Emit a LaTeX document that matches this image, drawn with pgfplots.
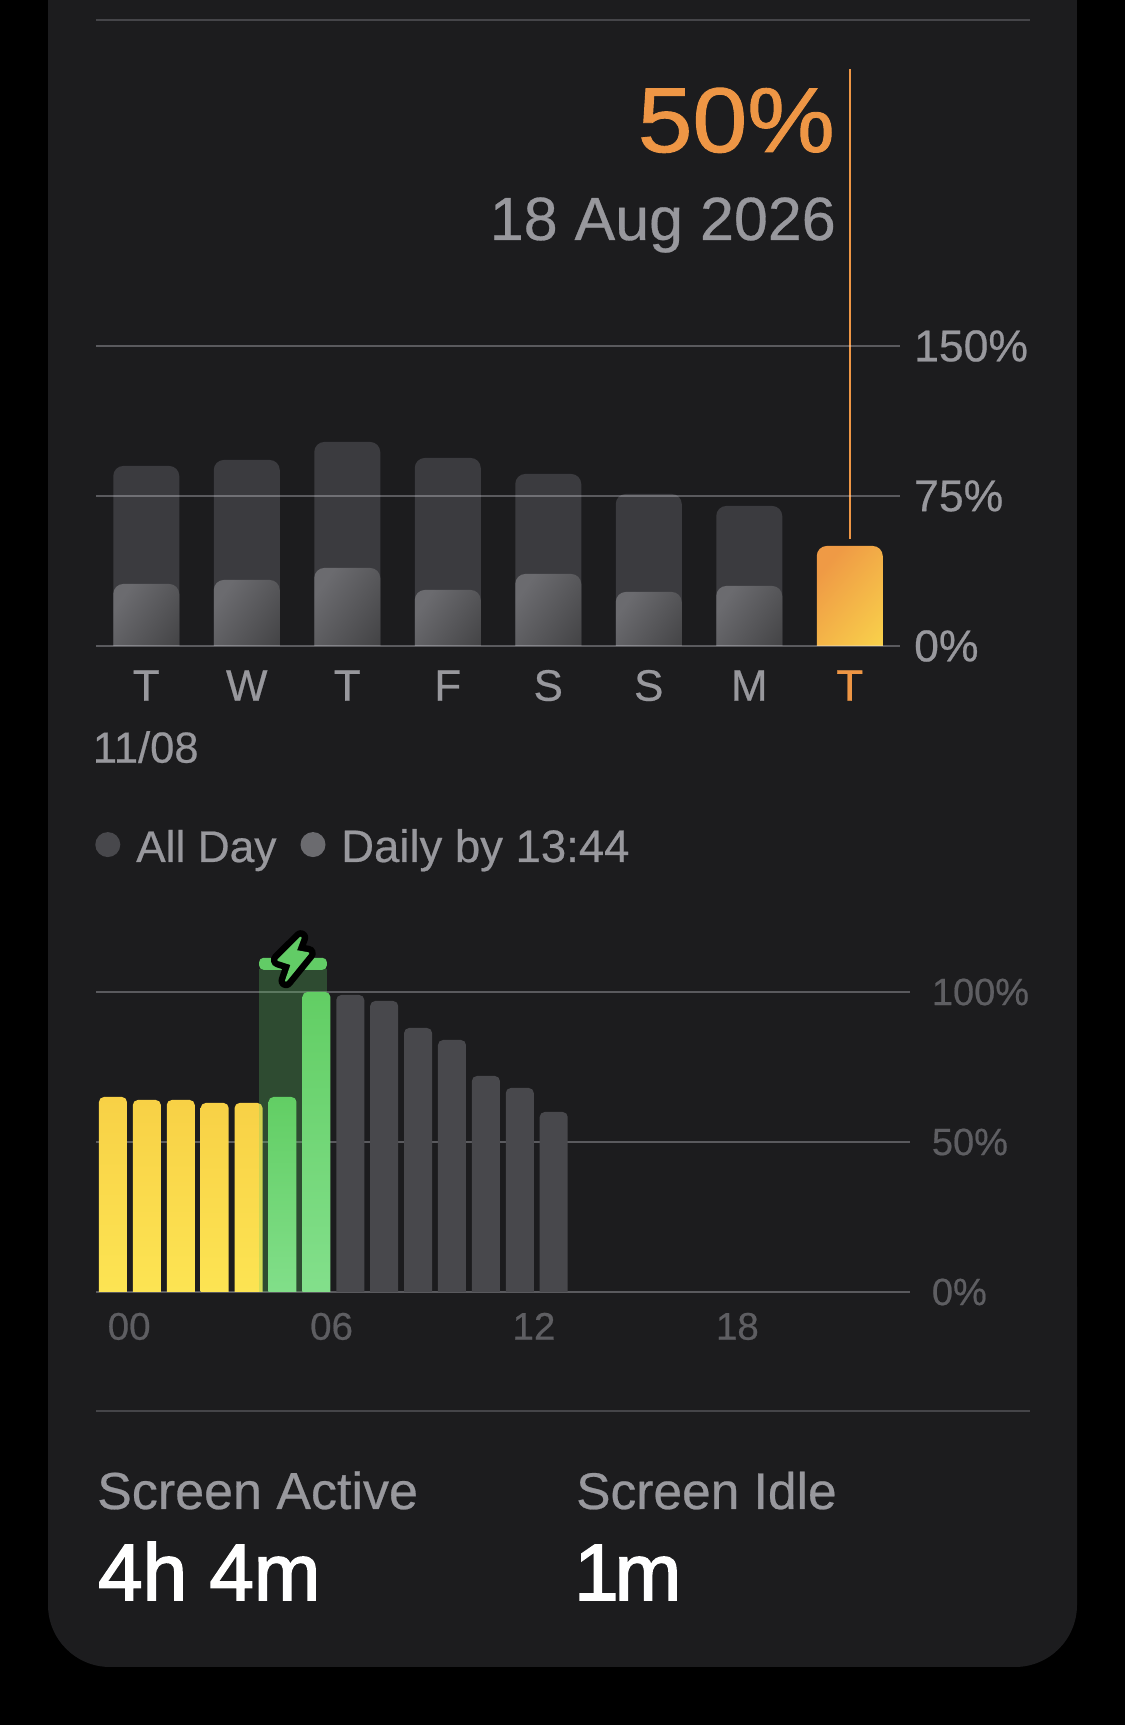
\documentclass[border=0pt]{standalone}
\usepackage{fontspec}
\usepackage{pgfplots}
\pgfplotsset{compat=1.18}
\setmainfont[FakeBold=0.5]{Liberation Sans}
\newfontfamily\medfont[FakeBold=2]{Liberation Sans}
\newfontfamily\bigfont[FakeStretch=1.07,FakeBold=1]{Liberation Sans}
\definecolor{panel}{HTML}{1C1C1E}
\definecolor{lab}{HTML}{98989D}
\definecolor{lablow}{HTML}{5E5E62}
\definecolor{orangeT}{HTML}{EE9645}
\definecolor{gridc}{HTML}{EBEBF5}
\definecolor{allday}{HTML}{3B3B3F}
\definecolor{dailyA}{HTML}{6B6B6F}
\definecolor{dailyB}{HTML}{424244}
\definecolor{ortop}{HTML}{EF9A45}
\definecolor{orbot}{HTML}{F9D24B}
\definecolor{yeltop}{HTML}{F8D146}
\definecolor{yelbot}{HTML}{FDE755}
\definecolor{grntop}{HTML}{62CE64}
\definecolor{grnbot}{HTML}{86E18F}
\definecolor{greybar}{HTML}{48484C}
\definecolor{capg}{HTML}{62CC66}
\newcommand{\fs}[1]{\fontsize{#1}{#1}\selectfont}
\makeatletter
\newcommand{\lowerorigin}{\def\pgfplotspointaxisorigin{\global\pgf@x=0pt \global\pgf@y=-30pt }}
\makeatother
\pgfplotsset{
  common/.style={
    scale only axis, clip=true,
    axis line style={draw=none},
    major tick length=0pt,
    tick style={draw=none},
    ymajorgrids,
    grid style={draw=gridc,draw opacity=0.3,line width=1.6pt},
    ymin=0,
  },
  wk/.style={ybar,bar shift=0pt,bar width=66pt,draw=none,rounded corners=10pt,
    execute at begin plot visualization={\lowerorigin}},
  hr/.style={ybar,bar shift=0pt,bar width=28pt,draw=none,rounded corners=5pt,
    execute at begin plot visualization={\lowerorigin}},
  daily/.style={wk,top color=dailyA,bottom color=dailyB,shading angle=55},
  yel/.style={hr,top color=yeltop,bottom color=yelbot},
  grn/.style={hr,top color=grntop,bottom color=grnbot},
}
\begin{document}
\begin{tikzpicture}[x=1pt,y=1pt]
\fill[black] (0,0) rectangle (1125,1725);
\fill[panel] (48,300) rectangle (1077,1725);
\fill[panel,rounded corners=62pt] (48,58) rectangle (1077,500);
% separators
\draw[gridc,draw opacity=0.2,line width=1.4pt] (96,1705) -- (1030,1705);
\draw[gridc,draw opacity=0.2,line width=1.4pt] (96,314) -- (1030,314);

% ---- weekly chart
\begin{axis}[common,
  at={(96pt,1079pt)},anchor=south west,
  width=804pt,height=580pt,
  axis on top,
  xmin=-0.5,xmax=7.5,ymax=290,
  xtick={0,1,2,3,4,5,6,7},
  xticklabels={T,W,T,F,S,S,M,\textcolor{orangeT}{T}},
  ytick={0,75,150},
  yticklabels={0\%,75\%,150\%},
  yticklabel pos=right,
  x tick label style={font=\fs{44},text=lab,inner sep=0pt,anchor=north,text height=32pt,text depth=0pt,yshift=-22.5pt},
  y tick label style={font=\fs{44.5},text=lab,inner sep=0pt,anchor=west,xshift=14pt},
]
\addplot[wk,fill=allday] coordinates {(0,90)(1,93)(2,102)(3,94)(4,86)(5,76)(6,70)};
\addplot[daily] coordinates {(0,31)};
\addplot[daily] coordinates {(1,33)};
\addplot[daily] coordinates {(2,39)};
\addplot[daily] coordinates {(3,28)};
\addplot[daily] coordinates {(4,36)};
\addplot[daily] coordinates {(5,27)};
\addplot[daily] coordinates {(6,30)};
\addplot[wk,top color=ortop,bottom color=orbot,shading angle=50] coordinates {(7,50)};
\addplot[orangeT,line width=1.6pt] coordinates {(7,53.5)(7,288.5)};
\end{axis}

% ---- hourly chart
\begin{axis}[common,
  at={(96pt,433pt)},anchor=south west,
  width=813.7pt,height=345pt,
  xmin=-0.5,xmax=23.5,ymax=115,
  xtick={-0.16,5.81,11.78,17.78},
  xticklabels={00,06,12,18},
  ytick={0,50,100},
  yticklabels={0\%,50\%,100\%},
  yticklabel pos=right,
  x tick label style={font=\fs{38.5},text=lablow,inner sep=0pt,anchor=north west,text height=27pt,text depth=0pt,yshift=-20.5pt},
  y tick label style={font=\fs{38},text=lablow,inner sep=0pt,anchor=west,xshift=22pt},
]
\addplot[yel] coordinates {(0,65)};
\addplot[yel] coordinates {(1,64)};
\addplot[yel] coordinates {(2,64)};
\addplot[yel] coordinates {(3,63)};
\addplot[yel] coordinates {(4,63)};
\addplot[ybar,bar shift=0pt,bar width=67.7pt,draw=none,fill=capg,fill opacity=0.27] coordinates {(5.31,107.7)};
\addplot[draw=none,fill=capg,rounded corners=4.5pt] coordinates {(4.31,107.4)(4.31,111.4)(6.31,111.4)(6.31,107.4)} --cycle;
\addplot[grn] coordinates {(5,65)};
\addplot[grn] coordinates {(6,100)};
\addplot[hr,fill=greybar] coordinates {(7,99)(8,97)(9,88)(10,84)(11,72)(12,68)(13,60)};
\end{axis}

% bolt icon
\def\bolt{(300.7,787.3) -- (295.7,774) -- (308.3,771.7) -- (286,744.3) -- (291.7,760.7) -- (278.3,765) -- cycle}
\draw[black,line width=15pt,line join=round] \bolt;
\fill[capg,draw=capg,line width=2pt,line join=round] \bolt;

% texts
\node[anchor=base east,inner sep=0pt,text=orangeT] at (835,1573) {\bigfont\fs{92}50\%};
\node[anchor=base east,inner sep=0pt,text=lab] at (836,1485) {\fs{61}18 Aug 2026};
\node[anchor=base west,inner sep=0pt,text=lab] at (92.7,962.3) {\fs{43.5}11/08};
\fill[fill=greybar] (107.8,880.4) circle (12.5);
\fill[fill=dailyA] (313,880.4) circle (12.5);
\node[anchor=base west,inner sep=0pt,text=lab] at (136,863) {\fs{44.3}All Day};
\node[anchor=base west,inner sep=0pt,text=lab] at (341,863) {\fs{45.5}Daily by 13:44};
\node[anchor=base west,inner sep=0pt,text=lab] at (97,216) {\fs{52}Screen Active};
\node[anchor=base west,inner sep=0pt,text=lab] at (576,216) {\fs{51.5}Screen Idle};
\node[anchor=base west,inner sep=0pt,text=white] at (98,125) {\medfont\fs{80}4h 4m};
\node[anchor=base west,inner sep=0pt,text=white] at (574,125) {\medfont\fs{80}1\kern-4pt m};
\end{tikzpicture}
\end{document}
